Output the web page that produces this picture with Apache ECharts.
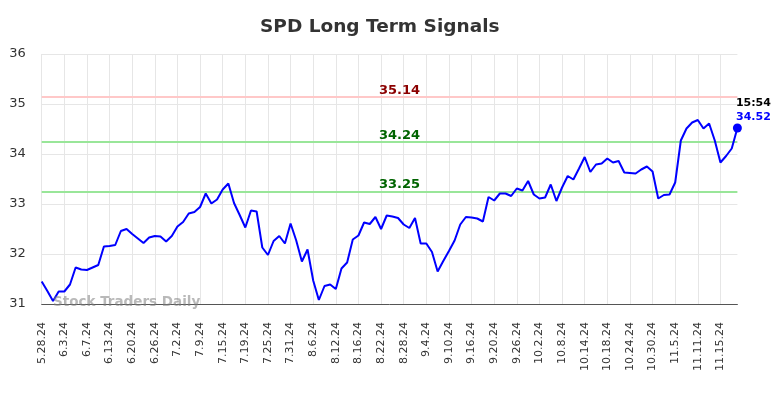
<!DOCTYPE html>
<html>
<head>
<meta charset="utf-8">
<script src="https://cdn.jsdelivr.net/npm/echarts@6/dist/echarts.min.js"></script>
<style>html,body{margin:0;padding:0;background:#fff}#c{width:784px;height:398px}</style>
</head>
<body>
<div id="c"></div>
<script>
const dates = [
 "5.28.24","5.29.24","5.30.24","5.31.24",
 "6.3.24","6.4.24","6.5.24","6.6.24","6.7.24","6.10.24","6.11.24","6.12.24","6.13.24","6.14.24",
 "6.17.24","6.18.24","6.20.24","6.21.24","6.24.24","6.25.24","6.26.24","6.27.24","6.28.24",
 "7.1.24","7.2.24","7.3.24","7.5.24","7.8.24","7.9.24","7.10.24","7.11.24","7.12.24","7.15.24",
 "7.16.24","7.17.24","7.18.24","7.19.24","7.22.24","7.23.24","7.24.24","7.25.24","7.26.24",
 "7.29.24","7.30.24","7.31.24","8.1.24","8.2.24","8.5.24","8.6.24","8.7.24","8.8.24","8.9.24",
 "8.12.24","8.13.24","8.14.24","8.15.24","8.16.24","8.19.24","8.20.24","8.21.24","8.22.24","8.23.24",
 "8.26.24","8.27.24","8.28.24","8.29.24","8.30.24","9.3.24","9.4.24","9.5.24","9.6.24",
 "9.9.24","9.10.24","9.11.24","9.12.24","9.13.24","9.16.24","9.17.24","9.18.24","9.19.24","9.20.24",
 "9.23.24","9.24.24","9.25.24","9.26.24","9.27.24","9.30.24","10.1.24","10.2.24","10.3.24","10.4.24",
 "10.7.24","10.8.24","10.9.24","10.10.24","10.11.24","10.14.24","10.15.24","10.16.24","10.17.24","10.18.24",
 "10.21.24","10.22.24","10.23.24","10.24.24","10.25.24","10.28.24","10.29.24","10.30.24","10.31.24",
 "11.1.24","11.4.24","11.5.24","11.6.24","11.7.24","11.8.24","11.11.24","11.12.24","11.13.24","11.14.24","11.15.24",
 "11.18.24","11.19.24","11.20.24"
];
const prices = [
 31.45,31.26,31.06,31.25,31.25,31.39,31.73,31.69,31.68,31.73,
 31.78,32.15,32.16,32.18,32.46,32.50,32.40,32.31,32.22,32.33,
 32.36,32.35,32.25,32.36,32.55,32.64,32.81,32.84,32.94,33.21,
 33.01,33.09,33.29,33.41,33.02,32.78,32.53,32.87,32.85,32.13,
 31.98,32.26,32.36,32.21,32.61,32.27,31.85,32.09,31.47,31.08,
 31.36,31.39,31.30,31.71,31.83,32.29,32.37,32.63,32.60,32.74,
 32.50,32.77,32.75,32.72,32.59,32.52,32.72,32.21,32.21,32.04,
 31.65,31.86,32.06,32.27,32.59,32.74,32.73,32.71,32.65,33.14,
 33.07,33.21,33.21,33.16,33.31,33.27,33.46,33.19,33.11,33.13,
 33.39,33.06,33.33,33.56,33.49,33.71,33.94,33.64,33.79,33.81,
 33.91,33.83,33.86,33.63,33.62,33.61,33.69,33.75,33.65,33.11,
 33.18,33.19,33.43,34.27,34.51,34.63,34.68,34.51,34.61,34.27,
 33.83,33.96,34.11,34.52
];
const resistance = 35.14;
const supports = [34.24, 33.25];
const lastTime = "15:54";
const yTicks = [31, 32, 33, 34, 35, 36];

const chart = echarts.init(document.getElementById('c'), null, {renderer: 'canvas'});
const lastIdx = prices.length - 1;
const lastVal = prices[lastIdx];

const lineLabel = (txt, color) => ({
  show: true, position: 'middle', formatter: txt, color: color,
  fontWeight: 'bold', fontSize: 13, fontFamily: 'DejaVu Sans', offset: [10, 5]
});

chart.setOption({
  animation: false,
  title: {
    text: 'SPD Long Term Signals', left: 255, top: 13,
    textStyle: {fontSize: 18.5, fontWeight: 'bold', color: '#333', fontFamily: 'DejaVu Sans'}
  },
  grid: {left: 41.7, right: 46.6, top: 54, bottom: 94, containLabel: false},
  xAxis: {
    type: 'category', data: dates, boundaryGap: false,
    axisLine: {lineStyle: {color: '#555', width: 1}},
    axisTick: {show: false},
    axisLabel: {interval: 3, rotate: 90, margin: 18, fontSize: 11, color: '#333', fontFamily: 'DejaVu Sans'},
    splitLine: {show: true, interval: 3, lineStyle: {color: '#e6e6e6', width: 1}}
  },
  yAxis: {
    type: 'value', min: yTicks[0], max: yTicks[yTicks.length - 1], interval: 1,
    axisLine: {show: false}, axisTick: {show: false},
    axisLabel: {fontSize: 13, color: '#333', margin: 16, fontFamily: 'DejaVu Sans'},
    splitLine: {lineStyle: {color: '#e6e6e6', width: 1}}
  },
  graphic: [{
    type: 'text', left: 53, top: 295, z: 10,
    style: {text: 'Stock Traders Daily', fontSize: 13.5, fontWeight: 'bold', fill: 'rgba(128,128,128,0.55)', fontFamily: 'DejaVu Sans'}
  }],
  series: [{
    type: 'line', data: prices, showSymbol: false,
    lineStyle: {color: '#0000ff', width: 2}, itemStyle: {color: '#0000ff'},
    z: 5,
    markLine: {
      silent: true, symbol: ['none', 'none'], animation: false,
      data: [
        {yAxis: resistance, lineStyle: {color: '#ffc8c8', width: 2, type: 'solid'},
         label: lineLabel(resistance.toFixed(2), '#8b0000')},
        ...supports.map(s => ({yAxis: s, lineStyle: {color: '#99e699', width: 2, type: 'solid'},
         label: lineLabel(s.toFixed(2), '#006400')}))
      ]
    }
  }, {
    type: 'scatter', z: 6,
    data: [[dates[lastIdx], lastVal]],
    symbol: 'circle', symbolSize: 9,
    itemStyle: {color: '#0000ff', opacity: 1},
    label: {
      show: true, position: 'top', distance: 3, offset: [16, 4],
      formatter: '{t|' + lastTime + '}\n{v|' + lastVal.toFixed(2) + '}',
      rich: {
        t: {color: '#000', fontWeight: 'bold', fontSize: 11, fontFamily: 'DejaVu Sans', lineHeight: 14},
        v: {color: '#0000ff', fontWeight: 'bold', fontSize: 11, fontFamily: 'DejaVu Sans', lineHeight: 14}
      }
    }
  }]
});
</script>
</body>
</html>
